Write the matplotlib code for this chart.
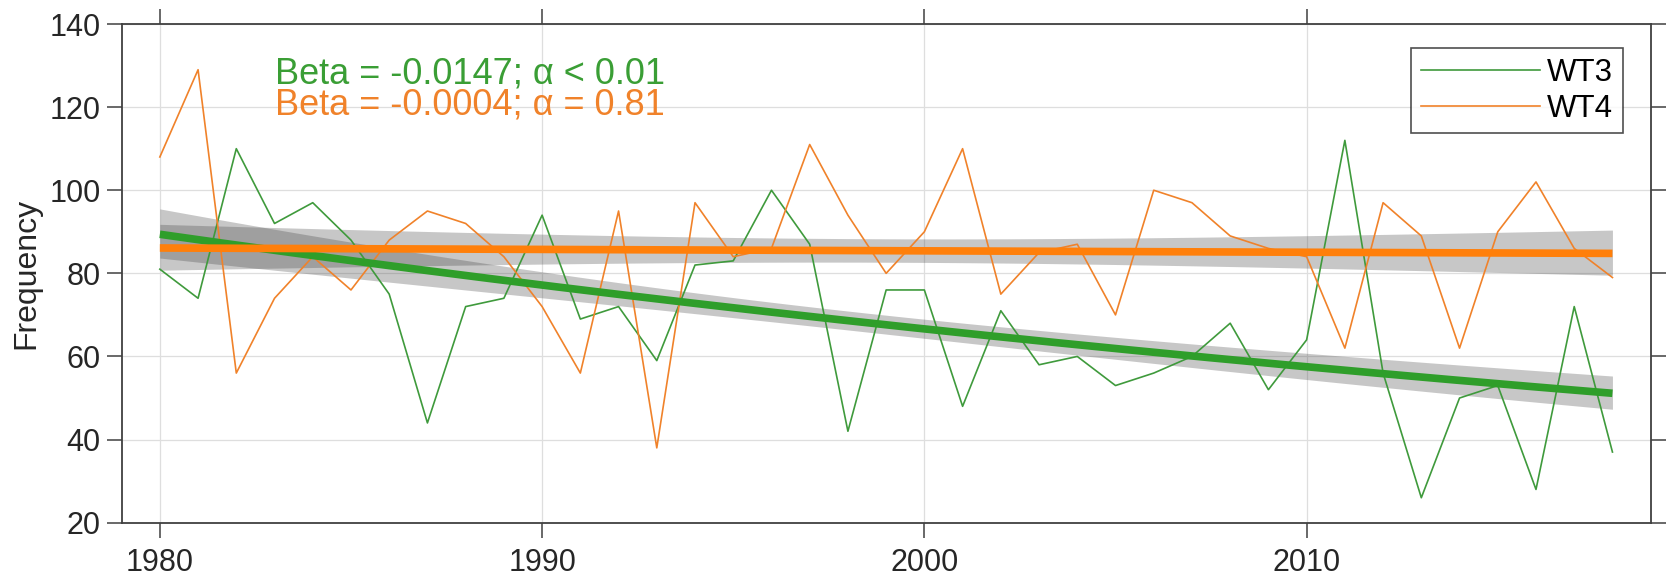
import numpy as np
import matplotlib
matplotlib.use("Agg")
import matplotlib.pyplot as plt

plt.rcParams['font.family'] = ['Liberation Sans', 'DejaVu Sans']

# yearly counts
years = np.arange(1980, 2019)
wt3 = [81, 74, 110, 92, 97, 88, 75, 44, 72, 74,
       94, 69, 72, 59, 82, 83, 100, 87, 42, 76,
       76, 48, 71, 58, 60, 53, 56, 60, 68, 52,
       64, 112, 56, 26, 50, 53, 28, 72, 37]
wt4 = [108, 129, 56, 74, 84, 76, 88, 95, 92, 84,
       72, 56, 95, 38, 97, 84, 86, 111, 94, 80,
       90, 110, 75, 85, 87, 70, 100, 97, 89, 86,
       84, 62, 97, 89, 62, 90, 102, 86, 79]

# log-linear trend: value at 1980 and slope (Beta), plus CI half-width params (log units)
wt3_start, wt3_beta = 89.4, -0.0147
wt4_start, wt4_beta = 86.1, -0.0004
wt3_ci = dict(center=1997, h0=0.033, k=0.00337)
wt4_ci = dict(center=1999, h0=0.033, k=0.00289)

labels = ["WT3", "WT4"]
texts = ["Beta = -0.0147; \u03b1 < 0.01", "Beta = -0.0004; \u03b1 = 0.81"]

c_green_thin = '#3f9a3c'
c_orange_thin = '#f0822a'
c_green = '#2f9e2a'
c_orange = '#ff7f0a'
axcol = '#404040'


def trend(start, beta, ci):
    x = np.linspace(1980, 2018, 200)
    y = start * np.exp(beta * (x - 1980))
    hw = np.sqrt(ci['h0'] ** 2 + (ci['k'] * (x - ci['center'])) ** 2)
    return x, y, y * np.exp(-hw), y * np.exp(hw)


fig = plt.figure(figsize=(16.66, 5.84), dpi=100)
ax = fig.add_axes([0.0730, 0.1050, 0.9178, 0.8539])

l3, = ax.plot(years, wt3, color=c_green_thin, lw=1.2, label=labels[0])
l4, = ax.plot(years, wt4, color=c_orange_thin, lw=1.2, label=labels[1])

x3, y3, lo3, hi3 = trend(wt3_start, wt3_beta, wt3_ci)
x4, y4, lo4, hi4 = trend(wt4_start, wt4_beta, wt4_ci)
ax.fill_between(x3, lo3, hi3, color='#404040', alpha=0.29, lw=0)
ax.fill_between(x4, lo4, hi4, color='#404040', alpha=0.29, lw=0)
ax.plot(x3, y3, color=c_green, lw=5.5, solid_capstyle='butt')
ax.plot(x4, y4, color=c_orange, lw=5.5, solid_capstyle='butt')

ax.text(1983, 125.6, texts[0], color='#3a9e35', fontsize=26, va='baseline')
ax.text(1983, 118.3, texts[1], color=c_orange_thin, fontsize=26, va='baseline')

ax.set_xlim(1979, 2019)
ax.set_ylim(20, 140)
ax.set_xticks([1980, 1990, 2000, 2010])
ax.set_yticks(np.arange(20, 141, 20))
ax.set_ylabel("Frequency", fontsize=23, color='#262626', labelpad=6)
ax.grid(True, color='#dedede', lw=0.9)
ax.set_axisbelow(True)
ax.tick_params(direction='out', length=11, width=1.1, colors=axcol,
               labelcolor='#262626', labelsize=22, top=True, right=True)
ax.tick_params(axis='x', pad=7)
ax.tick_params(axis='y', pad=4)
for s in ax.spines.values():
    s.set_color(axcol)
    s.set_linewidth(1.3)

leg = ax.legend(handles=[l3, l4], loc='upper right', bbox_to_anchor=(0.9817, 0.9513),
                borderaxespad=0, fontsize=22.5, frameon=True, fancybox=False,
                edgecolor='#222222', handlelength=3.8, handletextpad=0.25,
                borderpad=0.3, labelspacing=0.2)
leg.get_frame().set_linewidth(1.2)

fig.savefig("out.png", dpi=100)
